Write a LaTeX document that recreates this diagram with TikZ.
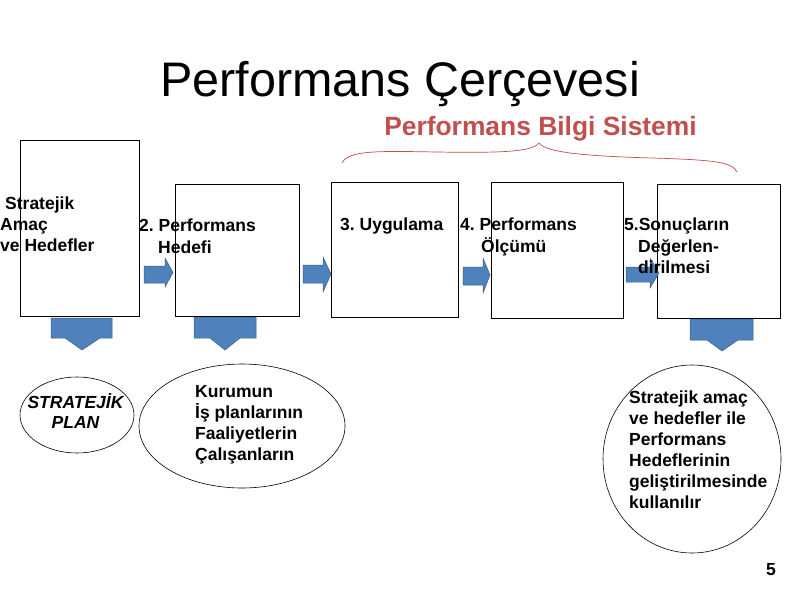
\documentclass[tikz,border=0pt]{standalone}
\usepackage{fontspec}
\setmainfont{Liberation Sans}
\definecolor{arrowblue}{RGB}{79,129,189}
\definecolor{arrowedge}{RGB}{56,93,138}
\definecolor{bracered}{RGB}{192,80,77}
\frenchspacing
\begin{document}
\begin{tikzpicture}[x=1pt,y=-1pt,
  stepbox/.style={draw=black, line width=0.8pt, fill=white, inner sep=0pt},
  lbl/.style={font=\fontsize{17.5}{21}\selectfont\bfseries, anchor=base west, inner sep=0pt},
  oval/.style={draw=black, line width=0.6pt, fill=white},
  blockarrow/.style={fill=arrowblue, draw=arrowedge, line width=0.5pt}
]
\useasboundingbox[fill=white] (0,0) rectangle (800,600);

% title
\node[font=\fontsize{48.5}{58}\selectfont, anchor=base, inner sep=0pt] (title) at (400,96) {Performans Çerçevesi};

% information system label and brace
\node[font=\fontsize{26.4}{31}\selectfont\bfseries, text=bracered, anchor=base, inner sep=0pt] (pbs) at (540.5,135) {Performans Bilgi Sistemi};
\coordinate (brL) at (342,163);
\coordinate (brT) at (539,143);
\coordinate (brR) at (737,172);
\draw[bracered, line width=0.7pt] (brL) .. controls (348,150) and (380,151) .. (437,152)
  .. controls (500,153) and (532,152) .. (brT)
  .. controls (546,152) and (580,156) .. (653,158)
  .. controls (715,160) and (732,162) .. (brR);

% boxes
\node[stepbox, minimum width=119pt, minimum height=176pt] (b1) at (79.5,228) {};
\node[stepbox, minimum width=124pt, minimum height=132pt] (b2) at (237,250) {};
\node[stepbox, minimum width=127pt, minimum height=135pt] (b3) at (394.5,249.5) {};
\node[stepbox, minimum width=132pt, minimum height=136pt] (b4) at (557,250) {};
\node[stepbox, minimum width=123pt, minimum height=134pt] (b5) at (718.5,251) {};

% right block arrows
\draw[blockarrow] (144,266) -- (165,266) -- (165,258) -- (173,272.5) -- (165,287) -- (165,283) -- (144,283) -- cycle;
\draw[blockarrow] (303,265) -- (323,265) -- (323,257) -- (331,274) -- (323,292) -- (323,283) -- (303,283) -- cycle;
\draw[blockarrow] (463,267) -- (483,267) -- (483,258) -- (490,275) -- (483,293) -- (483,285) -- (463,285) -- cycle;
\draw[blockarrow] (626,267) -- (650,267) -- (650,258) -- (659,273) -- (650,288) -- (650,282) -- (626,282) -- cycle;

% down block arrows
\draw[blockarrow] (51,318) -- (112,318) -- (112,338) -- (100,338) -- (82,350) -- (65,338) -- (51,338) -- cycle;
\draw[blockarrow] (194,317) -- (256,317) -- (256,338) -- (240,338) -- (225,350) -- (210,338) -- (194,338) -- cycle;
\draw[blockarrow] (690,319) -- (753,319) -- (753,340) -- (738,340) -- (722,351) -- (707,340) -- (690,340) -- cycle;

% box texts
\node[lbl] (t1a) at (5,209) {Stratejik};
\node[lbl] (t1b) at (0,230) {Amaç};
\node[lbl] (t1c) at (0,251) {ve Hedefler};
\node[lbl] (t2a) at (139,231) {2. Performans};
\node[lbl] (t2b) at (158,253) {Hedefi};
\node[lbl] (t3a) at (340,230) {3. Uygulama};
\node[lbl] (t4a) at (460,230) {4. Performans};
\node[lbl] (t4b) at (481,252) {Ölçümü};
\node[lbl] (t5a) at (624,230) {5.Sonuçların};
\node[lbl] (t5b) at (638,252) {Değerlen-};
\node[lbl] (t5c) at (638,273) {dirilmesi};

% ellipses
\draw[oval] (77,415) ellipse [x radius=57pt, y radius=38pt];
\draw[oval] (242,426) ellipse [x radius=103pt, y radius=62pt];
\draw[oval] (692,459) ellipse [x radius=89pt, y radius=94pt];

\node[lbl, anchor=base, font=\fontsize{17.5}{21}\selectfont\bfseries\itshape] (e1a) at (75.5,408) {STRATEJİK};
\node[lbl, anchor=base, font=\fontsize{17.5}{21}\selectfont\bfseries\itshape] (e1b) at (75.5,428) {PLAN};

\node[lbl] (e2a) at (195,397) {Kurumun};
\node[lbl] (e2b) at (195,418) {İş planlarının};
\node[lbl] (e2c) at (195,439) {Faaliyetlerin};
\node[lbl] (e2d) at (195,460) {Çalışanların};

\node[lbl] (e3a) at (629,403) {Stratejik amaç};
\node[lbl] (e3b) at (629,424) {ve hedefler ile};
\node[lbl] (e3c) at (629,445) {Performans};
\node[lbl] (e3d) at (629,466) {Hedeflerinin};
\node[lbl] (e3e) at (629,487) {geliştirilmesinde};
\node[lbl] (e3f) at (629,508) {kullanılır};

\node[lbl] (pg) at (766,575) {5};
\end{tikzpicture}
\end{document}
